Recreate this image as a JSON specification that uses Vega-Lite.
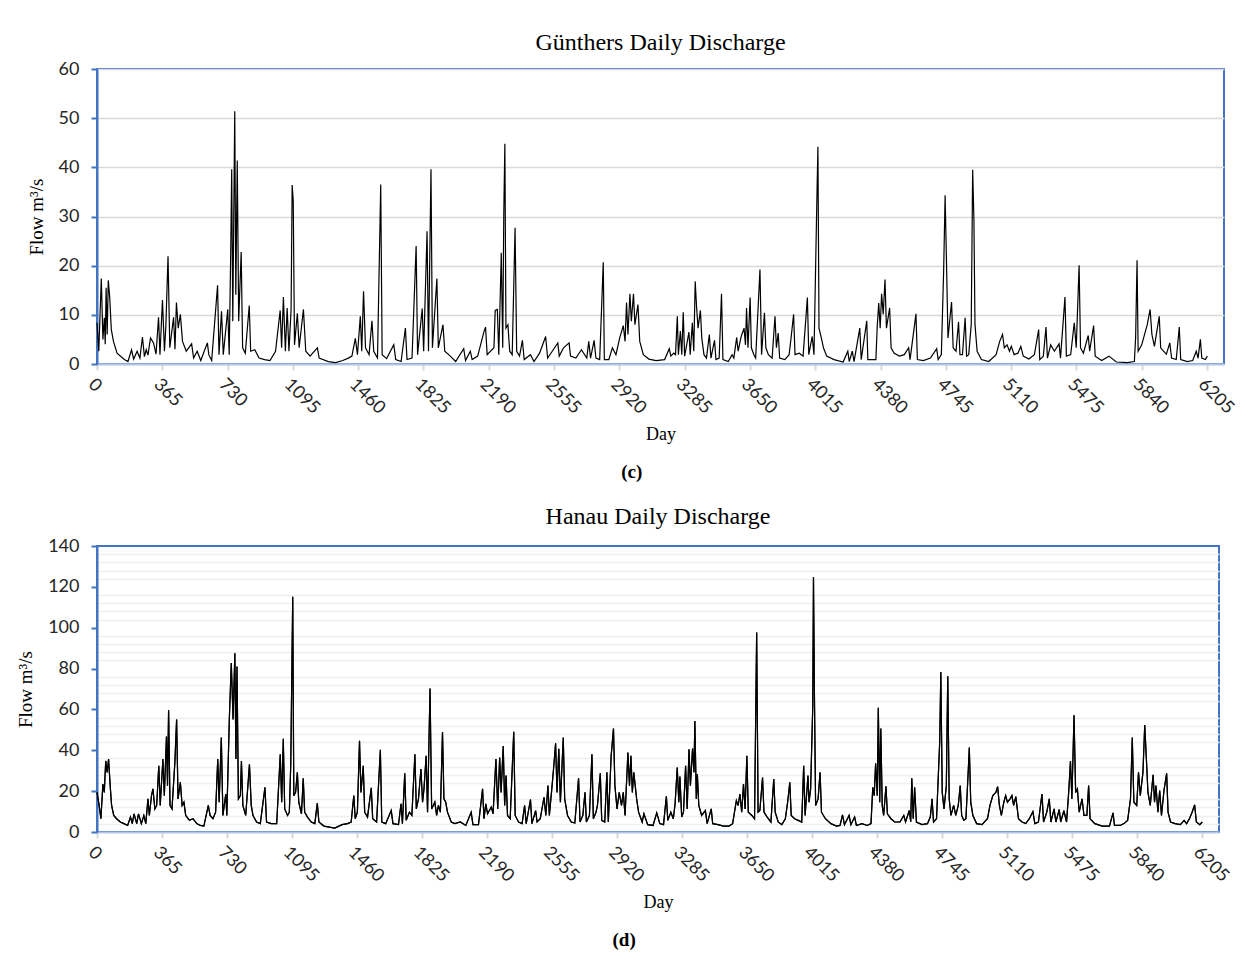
{
  "$schema": "https://vega.github.io/schema/vega-lite/v6.json",
  "background": "white",
  "padding": {"left": 15, "top": 30, "right": 10, "bottom": 5},
  "spacing": 21,
  "config": {
    "view": {"stroke": "#4472C4", "strokeWidth": 2},
    "axisX": {
      "domainColor": "#b4c7e7", "domainWidth": 2,
      "tickColor": "#d9d9d9", "tickSize": 6, "tickWidth": 2,
      "labelAngle": 45, "labelFont": "Lato", "labelFontSize": 18, "labelColor": "#262626", "labelPadding": 5,
      "labelOverlap": false, "format": "d",
      "grid": false,
      "titleFont": "Liberation Serif", "titleFontSize": 18, "titleFontWeight": "normal", "titleColor": "black", "titlePadding": 8
    },
    "axisY": {
      "domainColor": "#4472C4", "domainWidth": 2,
      "tickColor": "#4472C4", "tickSize": 6, "tickWidth": 2,
      "labelFont": "Lato", "labelFontSize": 18, "labelColor": "#262626", "labelPadding": 12,
      "gridColor": "#d9d9d9", "gridWidth": 1.5,
      "titleFont": "Liberation Serif", "titleFontSize": 19, "titleFontWeight": "normal", "titleColor": "black", "titlePadding": 12
    },
    "title": {"font": "Liberation Serif", "fontSize": 24, "fontWeight": "normal", "color": "black", "anchor": "middle"}
  },
  "datasets": {
    "c": [
      {"day":0,"flow":8.4},{"day":10,"flow":2.6},{"day":24,"flow":17.4},{"day":33,"flow":5.0},{"day":41,"flow":9.4},{"day":46,"flow":4.0},{"day":51,"flow":15.5},{"day":57,"flow":6.0},{"day":63,"flow":17.0},{"day":71,"flow":13.6},{"day":80,"flow":7.0},{"day":92,"flow":4.6},{"day":112,"flow":2.2},{"day":153,"flow":0.9},{"day":173,"flow":0.5},{"day":193,"flow":2.9},{"day":205,"flow":1.0},{"day":224,"flow":2.6},{"day":240,"flow":1.2},{"day":254,"flow":5.5},{"day":265,"flow":1.5},{"day":275,"flow":2.9},{"day":285,"flow":1.8},{"day":299,"flow":5.3},{"day":316,"flow":4.3},{"day":330,"flow":2.0},{"day":344,"flow":9.5},{"day":352,"flow":1.9},{"day":366,"flow":13.0},{"day":377,"flow":2.6},{"day":385,"flow":7.8},{"day":397,"flow":21.9},{"day":407,"flow":3.3},{"day":428,"flow":9.5},{"day":436,"flow":3.0},{"day":444,"flow":12.5},{"day":454,"flow":7.3},{"day":466,"flow":10.1},{"day":478,"flow":4.6},{"day":499,"flow":2.6},{"day":529,"flow":4.1},{"day":540,"flow":1.2},{"day":560,"flow":2.6},{"day":580,"flow":0.7},{"day":617,"flow":4.3},{"day":625,"flow":1.9},{"day":641,"flow":0.7},{"day":674,"flow":16.0},{"day":682,"flow":1.9},{"day":696,"flow":10.7},{"day":706,"flow":1.9},{"day":731,"flow":11.1},{"day":739,"flow":1.9},{"day":747,"flow":21.4},{"day":753,"flow":39.6},{"day":759,"flow":8.7},{"day":770,"flow":51.4},{"day":776,"flow":14.1},{"day":784,"flow":41.4},{"day":792,"flow":8.7},{"day":806,"flow":22.8},{"day":814,"flow":3.3},{"day":829,"flow":2.2},{"day":851,"flow":11.9},{"day":859,"flow":2.6},{"day":882,"flow":2.9},{"day":906,"flow":1.2},{"day":937,"flow":0.9},{"day":967,"flow":0.7},{"day":998,"flow":2.6},{"day":1024,"flow":10.9},{"day":1032,"flow":3.3},{"day":1042,"flow":13.6},{"day":1053,"flow":2.6},{"day":1063,"flow":11.4},{"day":1073,"flow":2.6},{"day":1085,"flow":11.1},{"day":1091,"flow":36.4},{"day":1097,"flow":33.2},{"day":1104,"flow":3.9},{"day":1120,"flow":10.3},{"day":1130,"flow":3.3},{"day":1154,"flow":11.1},{"day":1167,"flow":2.6},{"day":1191,"flow":1.6},{"day":1232,"flow":3.3},{"day":1242,"flow":1.2},{"day":1293,"flow":0.5},{"day":1334,"flow":0.3},{"day":1374,"flow":0.7},{"day":1405,"flow":1.2},{"day":1425,"flow":1.6},{"day":1444,"flow":5.2},{"day":1456,"flow":1.9},{"day":1472,"flow":9.7},{"day":1480,"flow":2.6},{"day":1490,"flow":14.8},{"day":1501,"flow":3.3},{"day":1521,"flow":1.9},{"day":1537,"flow":8.8},{"day":1547,"flow":2.6},{"day":1568,"flow":1.2},{"day":1586,"flow":36.5},{"day":1594,"flow":1.9},{"day":1619,"flow":1.1},{"day":1659,"flow":3.9},{"day":1670,"flow":0.9},{"day":1700,"flow":0.5},{"day":1724,"flow":7.3},{"day":1733,"flow":0.9},{"day":1761,"flow":1.2},{"day":1784,"flow":24.0},{"day":1792,"flow":1.9},{"day":1818,"flow":11.3},{"day":1826,"flow":2.6},{"day":1845,"flow":27.0},{"day":1853,"flow":2.6},{"day":1867,"flow":39.6},{"day":1875,"flow":3.3},{"day":1900,"flow":17.4},{"day":1908,"flow":3.3},{"day":1934,"flow":8.0},{"day":1944,"flow":2.6},{"day":1975,"flow":1.6},{"day":2005,"flow":0.5},{"day":2050,"flow":3.1},{"day":2060,"flow":0.7},{"day":2087,"flow":2.6},{"day":2097,"flow":0.9},{"day":2128,"flow":1.6},{"day":2164,"flow":6.7},{"day":2172,"flow":7.5},{"day":2181,"flow":1.9},{"day":2219,"flow":3.3},{"day":2226,"flow":10.9},{"day":2238,"flow":11.1},{"day":2246,"flow":1.9},{"day":2260,"flow":22.6},{"day":2268,"flow":3.3},{"day":2274,"flow":30.6},{"day":2280,"flow":44.8},{"day":2286,"flow":7.3},{"day":2297,"flow":8.0},{"day":2307,"flow":2.6},{"day":2321,"flow":1.9},{"day":2337,"flow":27.7},{"day":2346,"flow":2.6},{"day":2362,"flow":1.6},{"day":2378,"flow":4.8},{"day":2388,"flow":0.9},{"day":2423,"flow":1.9},{"day":2443,"flow":0.5},{"day":2474,"flow":2.2},{"day":2508,"flow":5.6},{"day":2519,"flow":1.2},{"day":2545,"flow":2.6},{"day":2576,"flow":4.3},{"day":2584,"flow":1.6},{"day":2608,"flow":3.3},{"day":2639,"flow":4.3},{"day":2647,"flow":1.6},{"day":2677,"flow":1.2},{"day":2708,"flow":2.9},{"day":2738,"flow":1.2},{"day":2749,"flow":4.6},{"day":2759,"flow":1.2},{"day":2779,"flow":4.8},{"day":2789,"flow":1.2},{"day":2810,"flow":0.9},{"day":2830,"flow":20.7},{"day":2836,"flow":0.9},{"day":2861,"flow":0.9},{"day":2881,"flow":3.3},{"day":2901,"flow":1.9},{"day":2922,"flow":5.3},{"day":2942,"flow":7.8},{"day":2952,"flow":4.6},{"day":2960,"flow":12.5},{"day":2968,"flow":6.0},{"day":2979,"flow":14.3},{"day":2987,"flow":8.7},{"day":2999,"flow":14.3},{"day":3007,"flow":8.0},{"day":3024,"flow":12.1},{"day":3034,"flow":4.6},{"day":3054,"flow":1.9},{"day":3085,"flow":1.0},{"day":3125,"flow":0.7},
      {"day":3173,"flow":0.9},{"day":3199,"flow":3.1},{"day":3208,"flow":1.6},{"day":3224,"flow":2.2},{"day":3234,"flow":1.9},{"day":3244,"flow":9.7},{"day":3250,"flow":1.9},{"day":3261,"flow":6.7},{"day":3269,"flow":1.9},{"day":3277,"flow":10.5},{"day":3285,"flow":1.6},{"day":3309,"flow":6.5},{"day":3316,"flow":1.9},{"day":3328,"flow":8.4},{"day":3336,"flow":2.6},{"day":3344,"flow":16.8},{"day":3352,"flow":11.4},{"day":3360,"flow":7.3},{"day":3373,"flow":10.9},{"day":3381,"flow":5.2},{"day":3393,"flow":1.9},{"day":3407,"flow":1.2},{"day":3423,"flow":6.0},{"day":3432,"flow":1.2},{"day":3452,"flow":4.8},{"day":3460,"flow":0.9},{"day":3478,"flow":1.2},{"day":3491,"flow":14.3},{"day":3499,"flow":0.9},{"day":3529,"flow":0.5},{"day":3550,"flow":1.9},{"day":3560,"flow":1.2},{"day":3576,"flow":5.4},{"day":3584,"flow":2.6},{"day":3601,"flow":5.6},{"day":3617,"flow":7.3},{"day":3625,"flow":3.9},{"day":3631,"flow":11.4},{"day":3639,"flow":3.3},{"day":3651,"flow":13.5},{"day":3658,"flow":3.3},{"day":3672,"flow":1.9},{"day":3682,"flow":1.2},{"day":3706,"flow":19.2},{"day":3715,"flow":1.9},{"day":3731,"flow":10.4},{"day":3739,"flow":3.3},{"day":3753,"flow":1.9},{"day":3774,"flow":1.2},{"day":3790,"flow":9.7},{"day":3798,"flow":3.3},{"day":3808,"flow":6.3},{"day":3816,"flow":1.2},{"day":3845,"flow":0.9},{"day":3869,"flow":1.9},{"day":3882,"flow":6.0},{"day":3894,"flow":10.1},{"day":3902,"flow":1.9},{"day":3926,"flow":2.2},{"day":3947,"flow":1.6},{"day":3971,"flow":13.5},{"day":3979,"flow":1.9},{"day":3998,"flow":5.6},{"day":4008,"flow":1.9},{"day":4024,"flow":33.2},{"day":4030,"flow":44.2},{"day":4036,"flow":7.3},{"day":4049,"flow":5.3},{"day":4061,"flow":3.3},{"day":4079,"flow":1.6},{"day":4120,"flow":0.9},{"day":4171,"flow":0.4},{"day":4197,"flow":2.6},{"day":4205,"flow":0.5},{"day":4222,"flow":2.6},{"day":4232,"flow":0.5},{"day":4264,"flow":7.3},{"day":4272,"flow":0.9},{"day":4303,"flow":8.8},{"day":4309,"flow":0.9},{"day":4354,"flow":0.9},{"day":4362,"flow":8.0},{"day":4370,"flow":12.4},{"day":4378,"flow":7.3},{"day":4386,"flow":14.3},{"day":4395,"flow":10.1},{"day":4405,"flow":17.2},{"day":4413,"flow":7.3},{"day":4431,"flow":11.4},{"day":4439,"flow":3.3},{"day":4456,"flow":2.2},{"day":4486,"flow":1.6},{"day":4513,"flow":1.9},{"day":4537,"flow":3.3},{"day":4545,"flow":0.9},{"day":4578,"flow":10.2},{"day":4586,"flow":0.9},{"day":4619,"flow":0.7},{"day":4659,"flow":1.2},{"day":4694,"flow":3.1},{"day":4702,"flow":0.9},{"day":4720,"flow":1.9},{"day":4733,"flow":19.2},{"day":4741,"flow":34.3},{"day":4749,"flow":20.2},{"day":4757,"flow":5.3},{"day":4777,"flow":12.6},{"day":4786,"flow":3.3},{"day":4802,"flow":2.6},{"day":4816,"flow":8.6},{"day":4824,"flow":1.9},{"day":4838,"flow":1.9},{"day":4853,"flow":9.4},{"day":4861,"flow":1.6},{"day":4873,"flow":1.9},{"day":4887,"flow":8.0},{"day":4895,"flow":39.5},{"day":4902,"flow":29.4},{"day":4908,"flow":8.0},{"day":4920,"flow":2.6},{"day":4944,"flow":0.9},{"day":4985,"flow":0.5},{"day":5026,"flow":1.9},{"day":5046,"flow":4.6},{"day":5062,"flow":6.0},{"day":5072,"flow":3.3},{"day":5087,"flow":3.9},{"day":5101,"flow":2.6},{"day":5111,"flow":3.6},{"day":5127,"flow":1.9},{"day":5148,"flow":2.2},{"day":5164,"flow":3.6},{"day":5178,"flow":1.6},{"day":5209,"flow":1.0},{"day":5240,"flow":1.9},{"day":5264,"flow":7.0},{"day":5270,"flow":0.9},{"day":5290,"flow":1.6},{"day":5305,"flow":7.5},{"day":5313,"flow":1.2},{"day":5331,"flow":3.9},{"day":5352,"flow":2.6},{"day":5378,"flow":4.1},{"day":5386,"flow":1.2},{"day":5411,"flow":13.6},{"day":5419,"flow":1.6},{"day":5443,"flow":1.9},{"day":5463,"flow":8.4},{"day":5474,"flow":3.3},{"day":5490,"flow":20.1},{"day":5498,"flow":3.3},{"day":5514,"flow":2.2},{"day":5541,"flow":5.8},{"day":5549,"flow":2.6},{"day":5571,"flow":7.8},{"day":5580,"flow":1.6},{"day":5616,"flow":0.7},{"day":5657,"flow":1.6},{"day":5698,"flow":0.4},{"day":5759,"flow":0.3},{"day":5799,"flow":0.5},{"day":5806,"flow":5.4},{"day":5814,"flow":21.1},{"day":5820,"flow":2.6},{"day":5840,"flow":3.9},{"day":5871,"flow":8.0},{"day":5887,"flow":11.1},{"day":5897,"flow":6.0},{"day":5911,"flow":3.6},{"day":5938,"flow":9.7},{"day":5946,"flow":3.3},{"day":5962,"flow":2.6},{"day":5978,"flow":2.0},{"day":5997,"flow":4.3},{"day":6007,"flow":1.2},{"day":6033,"flow":0.9},{"day":6050,"flow":7.5},{"day":6058,"flow":0.9},{"day":6095,"flow":0.5},{"day":6125,"flow":0.7},{"day":6145,"flow":2.6},{"day":6155,"flow":1.2},{"day":6168,"flow":5.0},{"day":6176,"flow":1.2},{"day":6196,"flow":0.9},{"day":6207,"flow":1.6}
    ],
    "d": [
      {"day":0,"flow":19.4},{"day":12,"flow":13.0},{"day":22,"flow":6.5},{"day":33,"flow":23.5},{"day":41,"flow":19.4},{"day":49,"flow":34.8},{"day":57,"flow":29.2},{"day":65,"flow":35.7},{"day":74,"flow":22.7},{"day":82,"flow":13.0},{"day":94,"flow":8.1},{"day":110,"flow":6.5},{"day":131,"flow":4.9},{"day":151,"flow":4.1},{"day":172,"flow":3.2},{"day":188,"flow":7.3},{"day":198,"flow":4.1},{"day":208,"flow":8.9},{"day":223,"flow":4.1},{"day":233,"flow":8.9},{"day":249,"flow":4.1},{"day":263,"flow":8.1},{"day":274,"flow":4.1},{"day":286,"flow":16.2},{"day":294,"flow":8.1},{"day":306,"flow":17.8},{"day":314,"flow":21.1},{"day":325,"flow":11.3},{"day":335,"flow":13.0},{"day":347,"flow":32.4},{"day":355,"flow":13.0},{"day":370,"flow":35.7},{"day":378,"flow":17.8},{"day":390,"flow":46.7},{"day":396,"flow":22.7},{"day":402,"flow":59.6},{"day":410,"flow":13.0},{"day":421,"flow":11.3},{"day":437,"flow":33.7},{"day":447,"flow":55.1},{"day":455,"flow":16.2},{"day":468,"flow":24.3},{"day":478,"flow":13.0},{"day":488,"flow":14.6},{"day":498,"flow":8.1},{"day":519,"flow":5.7},{"day":539,"flow":6.5},{"day":560,"flow":4.1},{"day":580,"flow":3.2},{"day":600,"flow":2.9},{"day":625,"flow":13.0},{"day":635,"flow":8.1},{"day":651,"flow":6.5},{"day":666,"flow":9.7},{"day":678,"flow":35.7},{"day":686,"flow":14.6},{"day":698,"flow":46.2},{"day":707,"flow":8.1},{"day":723,"flow":18.6},{"day":729,"flow":8.1},{"day":743,"flow":55.1},{"day":754,"flow":82.7},{"day":764,"flow":55.1},{"day":774,"flow":87.5},{"day":780,"flow":35.7},{"day":786,"flow":81.0},{"day":794,"flow":16.2},{"day":805,"flow":17.8},{"day":811,"flow":34.8},{"day":819,"flow":13.0},{"day":835,"flow":8.1},{"day":856,"flow":33.2},{"day":866,"flow":13.0},{"day":876,"flow":8.1},{"day":896,"flow":4.9},{"day":917,"flow":4.1},{"day":943,"flow":21.9},{"day":952,"flow":4.9},{"day":978,"flow":4.1},{"day":1009,"flow":4.1},{"day":1029,"flow":38.1},{"day":1037,"flow":14.6},{"day":1046,"flow":45.7},{"day":1054,"flow":11.3},{"day":1070,"flow":8.1},{"day":1080,"flow":9.7},{"day":1088,"flow":33.2},{"day":1099,"flow":115.1},{"day":1105,"flow":17.8},{"day":1115,"flow":19.4},{"day":1125,"flow":29.2},{"day":1133,"flow":14.6},{"day":1148,"flow":8.9},{"day":1158,"flow":26.3},{"day":1166,"flow":9.7},{"day":1182,"flow":7.3},{"day":1203,"flow":4.9},{"day":1223,"flow":4.1},{"day":1237,"flow":14.1},{"day":1246,"flow":4.9},{"day":1274,"flow":2.9},{"day":1305,"flow":2.4},{"day":1335,"flow":1.9},{"day":1376,"flow":3.6},{"day":1407,"flow":4.1},{"day":1427,"flow":4.9},{"day":1442,"flow":17.8},{"day":1450,"flow":6.5},{"day":1462,"flow":9.7},{"day":1474,"flow":44.6},{"day":1482,"flow":19.4},{"day":1495,"flow":32.4},{"day":1503,"flow":9.7},{"day":1519,"flow":7.3},{"day":1540,"flow":21.6},{"day":1548,"flow":6.5},{"day":1570,"flow":4.9},{"day":1591,"flow":40.2},{"day":1599,"flow":4.9},{"day":1621,"flow":4.1},{"day":1652,"flow":10.5},{"day":1662,"flow":4.1},{"day":1693,"flow":3.6},{"day":1707,"flow":13.8},{"day":1715,"flow":4.1},{"day":1728,"flow":28.7},{"day":1736,"flow":5.7},{"day":1754,"flow":9.7},{"day":1768,"flow":8.1},{"day":1785,"flow":38.1},{"day":1793,"flow":11.3},{"day":1805,"flow":16.2},{"day":1819,"flow":30.8},{"day":1828,"flow":14.6},{"day":1836,"flow":21.1},{"day":1848,"flow":37.3},{"day":1856,"flow":9.7},{"day":1870,"flow":70.2},{"day":1879,"flow":11.3},{"day":1897,"flow":14.6},{"day":1907,"flow":8.1},{"day":1917,"flow":13.0},{"day":1928,"flow":9.7},{"day":1940,"flow":48.9},{"day":1948,"flow":16.2},{"day":1958,"flow":14.6},{"day":1968,"flow":9.7},{"day":1989,"flow":4.9},{"day":2009,"flow":4.1},{"day":2040,"flow":4.9},{"day":2071,"flow":3.2},{"day":2101,"flow":9.7},{"day":2111,"flow":3.6},{"day":2142,"flow":3.6},{"day":2165,"flow":21.1},{"day":2173,"flow":6.5},{"day":2183,"flow":13.8},{"day":2193,"flow":8.9},{"day":2214,"flow":12.2},{"day":2224,"flow":8.9},{"day":2240,"flow":35.7},{"day":2250,"flow":11.3},{"day":2261,"flow":36.5},{"day":2269,"flow":19.4},{"day":2281,"flow":42.1},{"day":2289,"flow":13.0},{"day":2297,"flow":27.6},{"day":2305,"flow":8.1},{"day":2320,"flow":6.5},{"day":2340,"flow":49.1},{"day":2348,"flow":8.1},{"day":2367,"flow":4.9},{"day":2387,"flow":4.1},{"day":2401,"flow":13.0},{"day":2410,"flow":4.1},{"day":2434,"flow":15.9},{"day":2442,"flow":4.1},{"day":2463,"flow":10.5},{"day":2471,"flow":4.9},{"day":2489,"flow":6.5},{"day":2510,"flow":17.0},{"day":2520,"flow":8.1},{"day":2532,"flow":22.7},{"day":2540,"flow":8.1},{"day":2557,"flow":24.3},{"day":2565,"flow":32.4},{"day":2575,"flow":43.4},{"day":2583,"flow":19.4},{"day":2593,"flow":40.8},{"day":2602,"flow":14.6},{"day":2618,"flow":46.2},{"day":2626,"flow":16.2},{"day":2642,"flow":8.1},{"day":2663,"flow":4.9},{"day":2683,"flow":4.4},{"day":2704,"flow":26.3},{"day":2712,"flow":4.9},{"day":2728,"flow":8.1},{"day":2740,"flow":19.4},{"day":2748,"flow":4.9},{"day":2765,"flow":8.1},{"day":2779,"flow":38.1},{"day":2787,"flow":6.5},{"day":2802,"flow":9.7},{"day":2810,"flow":13.0},{"day":2826,"flow":28.7},{"day":2834,"flow":5.7},{"day":2851,"flow":4.9},{"day":2863,"flow":29.2},{"day":2871,"flow":4.9},{"day":2887,"flow":37.3},{"day":2900,"flow":50.6},{"day":2908,"flow":22.7},{"day":2920,"flow":11.3},{"day":2932,"flow":19.4},{"day":2945,"flow":13.0},{"day":2955,"flow":19.4},{"day":2965,"flow":8.1},{"day":2981,"flow":38.9},{"day":2990,"flow":22.7},{"day":2998,"flow":37.3},{"day":3006,"flow":19.4},{"day":3014,"flow":29.2},{"day":3022,"flow":22.7},{"day":3030,"flow":16.2},{"day":3041,"flow":9.7},{"day":3061,"flow":4.9},{"day":3071,"flow":8.9},{"day":3092,"flow":3.6},{"day":3122,"flow":3.2},{"day":3143,"flow":9.4},
      {"day":3160,"flow":4.1},{"day":3181,"flow":3.6},{"day":3197,"flow":17.5},{"day":3205,"flow":5.7},{"day":3222,"flow":9.7},{"day":3236,"flow":6.5},{"day":3246,"flow":13.8},{"day":3258,"flow":31.6},{"day":3267,"flow":14.6},{"day":3273,"flow":27.2},{"day":3283,"flow":7.3},{"day":3293,"flow":9.7},{"day":3305,"flow":32.4},{"day":3314,"flow":11.3},{"day":3324,"flow":40.5},{"day":3332,"flow":22.7},{"day":3344,"flow":40.8},{"day":3352,"flow":29.2},{"day":3357,"flow":54.3},{"day":3365,"flow":16.2},{"day":3371,"flow":28.2},{"day":3379,"flow":13.0},{"day":3395,"flow":8.1},{"day":3416,"flow":10.5},{"day":3426,"flow":4.1},{"day":3449,"flow":11.3},{"day":3457,"flow":4.1},{"day":3487,"flow":3.6},{"day":3518,"flow":2.9},{"day":3549,"flow":2.9},{"day":3569,"flow":4.1},{"day":3590,"flow":15.4},{"day":3600,"flow":13.0},{"day":3610,"flow":18.6},{"day":3620,"flow":9.7},{"day":3630,"flow":23.5},{"day":3639,"flow":11.3},{"day":3649,"flow":37.3},{"day":3657,"flow":9.7},{"day":3677,"flow":8.1},{"day":3692,"flow":6.5},{"day":3704,"flow":97.6},{"day":3712,"flow":9.7},{"day":3722,"flow":10.5},{"day":3737,"flow":26.7},{"day":3745,"flow":9.7},{"day":3763,"flow":7.3},{"day":3784,"flow":4.9},{"day":3800,"flow":25.9},{"day":3808,"flow":9.7},{"day":3825,"flow":4.9},{"day":3845,"flow":3.6},{"day":3865,"flow":6.5},{"day":3878,"flow":14.6},{"day":3890,"flow":24.3},{"day":3898,"flow":8.1},{"day":3917,"flow":6.5},{"day":3937,"flow":5.7},{"day":3957,"flow":4.9},{"day":3968,"flow":32.4},{"day":3976,"flow":8.1},{"day":3992,"flow":27.6},{"day":3998,"flow":14.6},{"day":4007,"flow":21.1},{"day":4019,"flow":61.6},{"day":4023,"flow":124.8},{"day":4029,"flow":61.6},{"day":4035,"flow":13.0},{"day":4049,"flow":16.2},{"day":4060,"flow":29.2},{"day":4068,"flow":9.7},{"day":4090,"flow":6.5},{"day":4121,"flow":4.1},{"day":4152,"flow":2.9},{"day":4172,"flow":3.2},{"day":4186,"flow":8.4},{"day":4197,"flow":3.6},{"day":4223,"flow":8.1},{"day":4233,"flow":3.6},{"day":4254,"flow":7.3},{"day":4264,"flow":3.2},{"day":4295,"flow":4.1},{"day":4325,"flow":3.2},{"day":4346,"flow":4.1},{"day":4356,"flow":21.9},{"day":4364,"flow":17.8},{"day":4372,"flow":33.7},{"day":4381,"flow":17.8},{"day":4387,"flow":60.8},{"day":4395,"flow":14.6},{"day":4401,"flow":50.6},{"day":4409,"flow":13.0},{"day":4417,"flow":8.1},{"day":4430,"flow":22.4},{"day":4438,"flow":8.9},{"day":4458,"flow":6.5},{"day":4479,"flow":4.9},{"day":4509,"flow":4.9},{"day":4530,"flow":8.1},{"day":4540,"flow":4.9},{"day":4561,"flow":10.5},{"day":4569,"flow":4.9},{"day":4575,"flow":26.3},{"day":4583,"flow":6.5},{"day":4591,"flow":21.9},{"day":4601,"flow":4.9},{"day":4632,"flow":3.6},{"day":4663,"flow":4.1},{"day":4679,"flow":7.3},{"day":4689,"flow":16.2},{"day":4697,"flow":4.9},{"day":4714,"flow":6.5},{"day":4732,"flow":44.6},{"day":4738,"flow":78.3},{"day":4746,"flow":19.4},{"day":4756,"flow":11.3},{"day":4769,"flow":22.7},{"day":4777,"flow":76.2},{"day":4785,"flow":16.2},{"day":4795,"flow":8.1},{"day":4810,"flow":13.0},{"day":4822,"flow":8.1},{"day":4836,"flow":13.0},{"day":4847,"flow":22.7},{"day":4855,"flow":8.1},{"day":4867,"flow":5.7},{"day":4879,"flow":6.5},{"day":4892,"flow":30.0},{"day":4898,"flow":41.3},{"day":4906,"flow":14.6},{"day":4918,"flow":8.1},{"day":4939,"flow":4.1},{"day":4969,"flow":3.6},{"day":5000,"flow":6.5},{"day":5014,"flow":13.0},{"day":5030,"flow":17.8},{"day":5047,"flow":19.4},{"day":5057,"flow":22.2},{"day":5067,"flow":13.0},{"day":5078,"flow":8.1},{"day":5092,"flow":14.6},{"day":5102,"flow":17.8},{"day":5112,"flow":14.6},{"day":5127,"flow":16.2},{"day":5137,"flow":17.8},{"day":5147,"flow":13.0},{"day":5159,"flow":17.3},{"day":5174,"flow":6.5},{"day":5194,"flow":4.9},{"day":5215,"flow":4.1},{"day":5235,"flow":6.5},{"day":5255,"flow":10.0},{"day":5266,"flow":4.1},{"day":5286,"flow":4.9},{"day":5306,"flow":18.6},{"day":5315,"flow":4.9},{"day":5333,"flow":9.7},{"day":5347,"flow":16.2},{"day":5356,"flow":4.9},{"day":5374,"flow":11.3},{"day":5384,"flow":4.9},{"day":5403,"flow":11.0},{"day":5411,"flow":4.9},{"day":5429,"flow":10.5},{"day":5444,"flow":4.9},{"day":5456,"flow":19.4},{"day":5466,"flow":34.8},{"day":5474,"flow":16.2},{"day":5486,"flow":57.1},{"day":5495,"flow":19.4},{"day":5505,"flow":21.1},{"day":5515,"flow":9.7},{"day":5531,"flow":16.2},{"day":5542,"flow":8.1},{"day":5558,"flow":8.1},{"day":5568,"flow":22.7},{"day":5576,"flow":6.5},{"day":5603,"flow":4.1},{"day":5644,"flow":2.9},{"day":5685,"flow":2.9},{"day":5705,"flow":9.4},{"day":5713,"flow":3.2},{"day":5746,"flow":3.2},{"day":5766,"flow":4.1},{"day":5787,"flow":5.7},{"day":5803,"flow":16.2},{"day":5813,"flow":46.2},{"day":5822,"flow":14.6},{"day":5838,"flow":13.0},{"day":5848,"flow":29.2},{"day":5858,"flow":17.8},{"day":5873,"flow":29.2},{"day":5883,"flow":52.4},{"day":5891,"flow":38.1},{"day":5901,"flow":19.4},{"day":5914,"flow":13.0},{"day":5930,"flow":28.0},{"day":5938,"flow":14.6},{"day":5946,"flow":22.7},{"day":5957,"flow":9.7},{"day":5967,"flow":20.3},{"day":5977,"flow":8.1},{"day":5991,"flow":20.3},{"day":6006,"flow":28.7},{"day":6014,"flow":9.7},{"day":6028,"flow":4.9},{"day":6053,"flow":4.1},{"day":6083,"flow":3.6},{"day":6104,"flow":5.7},{"day":6118,"flow":4.1},{"day":6134,"flow":6.5},{"day":6149,"flow":9.7},{"day":6163,"flow":13.3},{"day":6173,"flow":4.9},{"day":6192,"flow":3.6},{"day":6206,"flow":4.9}
    ]
  },
  "vconcat": [
    {
      "title": {"text": "(c)", "orient": "bottom", "fontSize": 19, "fontWeight": "bold", "offset": 19},
      "vconcat": [
        {
          "title": {"text": "Günthers Daily Discharge", "offset": 5},
          "width": 1127,
          "height": 295,
          "data": {"name": "c"},
          "mark": {"type": "line", "color": "black", "strokeWidth": 1.2},
          "encoding": {
            "x": {"field": "day", "type": "quantitative", "scale": {"domain": [0, 6300], "nice": false, "zero": false},
                  "axis": {"title": "Day", "values": [0,365,730,1095,1460,1825,2190,2555,2920,3285,3650,4015,4380,4745,5110,5475,5840,6205]}},
            "y": {"field": "flow", "type": "quantitative", "scale": {"domain": [0, 60], "nice": false},
                  "axis": {"title": "Flow m³/s", "values": [0,10,20,30,40,50,60]}}
          }
        }
      ]
    },
    {
      "title": {"text": "(d)", "orient": "bottom", "fontSize": 19, "fontWeight": "bold", "offset": 19},
      "vconcat": [
        {
          "title": {"text": "Hanau Daily Discharge", "offset": 8},
          "width": 1122,
          "height": 286,
          "data": {"name": "d"},
          "resolve": {"axis": {"y": "independent"}},
          "layer": [
            {
              "mark": {"type": "line", "color": "black", "strokeWidth": 1.2},
              "encoding": {
                "x": {"field": "day", "type": "quantitative", "scale": {"domain": [0, 6300], "nice": false, "zero": false},
                      "axis": {"title": "Day", "values": [0,365,730,1095,1460,1825,2190,2555,2920,3285,3650,4015,4380,4745,5110,5475,5840,6205]}},
                "y": {"field": "flow", "type": "quantitative", "scale": {"domain": [0, 140], "nice": false},
                      "axis": {"orient": "left", "title": null, "values": [4,8,12,16,24,28,32,36,44,48,52,56,64,68,72,76,84,88,92,96,104,108,112,116,124,128,132,136],
                               "labels": false, "ticks": false, "domain": false, "gridColor": "#efefef", "gridWidth": 1.5}}
              }
            },
            {
              "mark": {"type": "line", "color": "black", "strokeWidth": 1.2},
              "encoding": {
                "x": {"field": "day", "type": "quantitative"},
                "y": {"field": "flow", "type": "quantitative",
                      "axis": {"orient": "left", "title": "Flow m³/s", "values": [0,20,40,60,80,100,120,140]}}
              }
            }
          ]
        }
      ]
    }
  ]
}
